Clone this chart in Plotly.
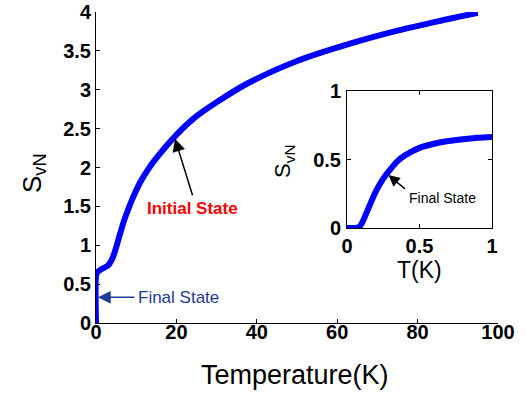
import plotly.graph_objects as go

# Main curve: temperature (K) vs S_vN
main_T = [0, 0, 0.3, 1, 2, 3, 4, 5, 6, 7, 8, 9, 11, 13, 15, 20, 25, 30, 38, 50, 63, 75, 85, 95]
main_S = [0, 0.6, 0.65, 0.68, 0.71, 0.74, 0.82, 0.97, 1.15, 1.32, 1.46, 1.59, 1.81, 1.98, 2.12,
          2.42, 2.66, 2.84, 3.09, 3.37, 3.59, 3.76, 3.88, 3.99]

# Inset curve: T (K) vs S_vN
inset_T = [0, 0.05, 0.08, 0.1, 0.15, 0.2, 0.25, 0.3, 0.35, 0.4, 0.5, 0.6, 0.7, 0.8, 0.9, 1.0]
inset_S = [0, 0, 0.005, 0.03, 0.15, 0.27, 0.36, 0.43, 0.49, 0.53, 0.585, 0.615, 0.635, 0.648, 0.658, 0.665]

main_xticks = [0, 20, 40, 60, 80, 100]
main_yticks = [0, 0.5, 1, 1.5, 2, 2.5, 3, 3.5, 4]
inset_ticks = [0, 0.5, 1]

FONT = "Arial, Liberation Sans, sans-serif"
W, H = 526, 396


def bold_labels(vals):
    return ["<b>%g</b>" % v for v in vals]


fig = go.Figure()
fig.add_trace(go.Scatter(x=main_T, y=main_S, mode="lines",
                         line=dict(color="#0000FF", width=6, shape="spline", smoothing=0.8),
                         xaxis="x", yaxis="y", showlegend=False, hoverinfo="skip"))
fig.add_trace(go.Scatter(x=inset_T, y=inset_S, mode="lines",
                         line=dict(color="#0000FF", width=6, shape="spline", smoothing=0.8),
                         xaxis="x2", yaxis="y2", showlegend=False, hoverinfo="skip"))

tickfont = dict(family=FONT, size=20, color="black")


def px_x(p):
    return p / W


def px_y(p):
    return 1 - p / H


common = dict(showline=True, linecolor="black", linewidth=1, ticks="inside", ticklen=4,
              tickcolor="black", showgrid=False, zeroline=False, tickfont=tickfont,
              automargin=False)

fig.update_layout(
    width=W, height=H,
    margin=dict(l=0, r=0, t=0, b=0),
    paper_bgcolor="white", plot_bgcolor="white",
    xaxis=dict(domain=[px_x(96), px_x(498)], range=[0, 100], tickvals=main_xticks,
               ticktext=bold_labels(main_xticks), mirror=False, anchor="y",
               ticklabelstandoff=-9, **common),
    yaxis=dict(domain=[px_y(323), px_y(12)], range=[0, 4], tickvals=main_yticks,
               ticktext=bold_labels(main_yticks), mirror=False, anchor="x",
               ticklabelstandoff=0, **common),
    xaxis2=dict(domain=[px_x(347), px_x(492)], range=[0, 1], tickvals=inset_ticks,
                ticktext=bold_labels(inset_ticks), mirror="ticks", anchor="y2",
                ticklabelstandoff=0, **common),
    yaxis2=dict(domain=[px_y(228), px_y(91)], range=[0, 1], tickvals=inset_ticks,
                ticktext=bold_labels(inset_ticks), mirror="ticks", anchor="x2",
                ticklabelstandoff=1, **common),
)

annotations = [
    # Axis titles
    dict(text="Temperature(K)", x=px_x(295), y=px_y(375), xref="paper", yref="paper",
         showarrow=False, font=dict(family=FONT, size=27, color="black"),
         xanchor="center", yanchor="middle"),
    dict(text="S<sub>vN</sub>", x=px_x(33), y=px_y(173), xref="paper", yref="paper",
         showarrow=False, textangle=-90, font=dict(family=FONT, size=26, color="black"),
         xanchor="center", yanchor="middle"),
    dict(text="T(K)", x=px_x(419), y=px_y(270), xref="paper", yref="paper",
         showarrow=False, font=dict(family=FONT, size=23, color="black"),
         xanchor="center", yanchor="middle"),
    dict(text="S<sub>vN</sub>", x=px_x(284), y=px_y(161), xref="paper", yref="paper",
         showarrow=False, textangle=-90, font=dict(family=FONT, size=22, color="black"),
         xanchor="center", yanchor="middle"),
    # Initial State
    dict(text="", x=19.65, y=2.37, xref="x", yref="y", ax=18, ay=58,
         showarrow=True, arrowhead=2, arrowsize=1.7, arrowwidth=1.5, arrowcolor="black"),
    dict(text="<b>Initial State</b>", x=px_x(193), y=px_y(208), xref="paper", yref="paper",
         showarrow=False, font=dict(family=FONT, size=17, color="#FF0000"),
         xanchor="center", yanchor="middle"),
    # Final State (main)
    dict(text="", x=0.5, y=0.33, xref="x", yref="y", ax=38, ay=0,
         showarrow=True, arrowhead=2, arrowsize=1.7, arrowwidth=1.5, arrowcolor="#1F3A93"),
    dict(text="Final State", x=px_x(136), y=px_y(297), xref="paper", yref="paper",
         showarrow=False, font=dict(family=FONT, size=17, color="#1F3A93"),
         xanchor="left", yanchor="middle"),
    # Final State (inset)
    dict(text="", x=0.286, y=0.386, xref="x2", yref="y2", ax=18, ay=15,
         showarrow=True, arrowhead=2, arrowsize=1.5, arrowwidth=1.5, arrowcolor="black"),
    dict(text="Final State", x=px_x(407), y=px_y(198), xref="paper", yref="paper",
         showarrow=False, font=dict(family=FONT, size=14, color="black"),
         xanchor="left", yanchor="middle"),
]
fig.update_layout(annotations=annotations)

fig.write_html("out.html", config={"displayModeBar": False},
               post_script="document.body.style.margin='0';document.body.style.overflow='hidden';")
